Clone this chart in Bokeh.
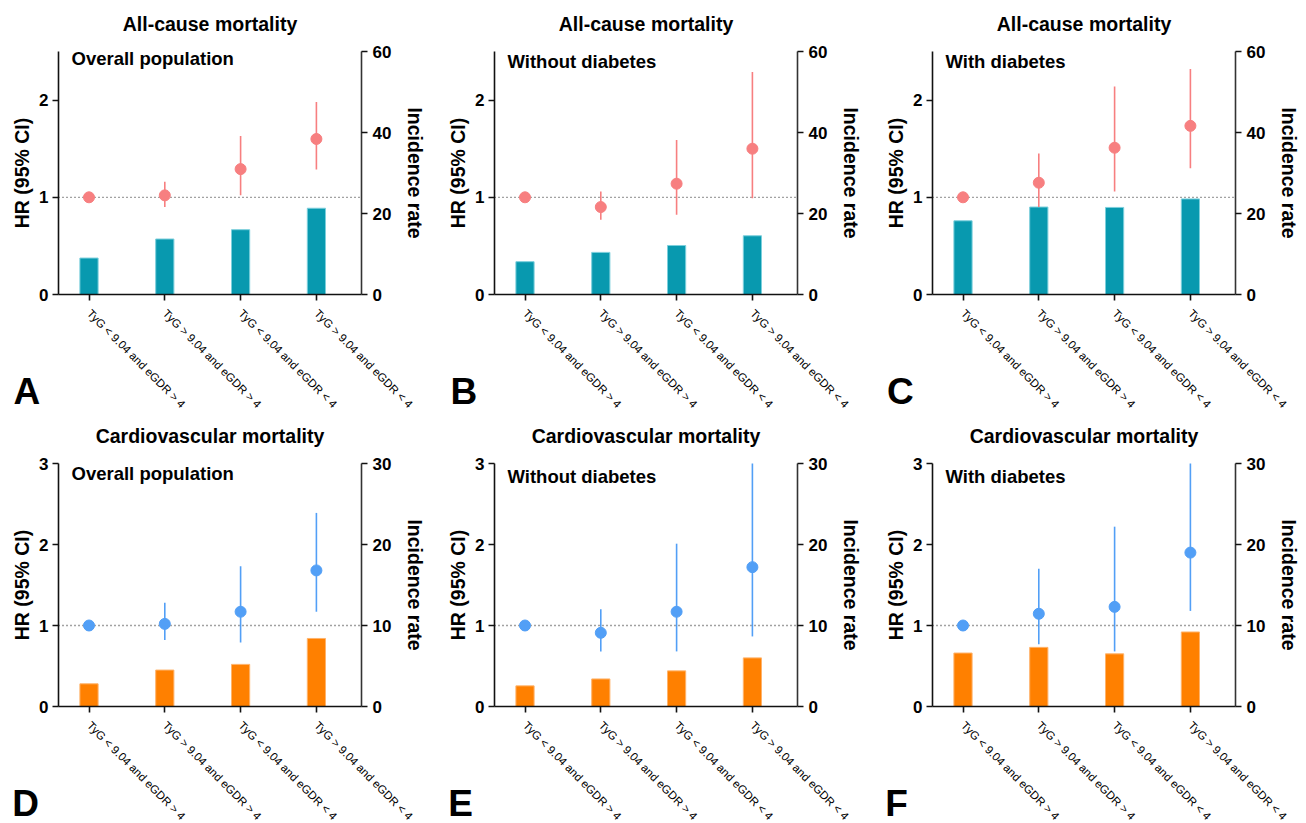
import math
from bokeh.plotting import figure
from bokeh.models import Range1d, LinearAxis, FixedTicker, Label
from bokeh.layouts import column, row
from bokeh.embed import file_html
from bokeh.resources import INLINE

# ---------------- data ----------------
groups = ["TyG < 9.04 and eGDR > 4", "TyG > 9.04 and eGDR > 4",
          "TyG < 9.04 and eGDR < 4", "TyG > 9.04 and eGDR < 4"]

titles = ["All-cause mortality", "All-cause mortality", "All-cause mortality",
          "Cardiovascular mortality", "Cardiovascular mortality", "Cardiovascular mortality"]
subtitles = ["Overall population", "Without diabetes", "With diabetes",
             "Overall population", "Without diabetes", "With diabetes"]
letters = ["A", "B", "C", "D", "E", "F"]

# All-cause mortality: HR (95% CI) and incidence rate
hr_a = [1.00, 1.02, 1.29, 1.60]
lo_a = [1.00, 0.90, 1.02, 1.285]
hi_a = [1.00, 1.16, 1.63, 1.98]
inc_a = [9.0, 13.7, 16.0, 21.3]

hr_b = [1.00, 0.90, 1.14, 1.50]
lo_b = [1.00, 0.77, 0.82, 0.99]
hi_b = [1.00, 1.06, 1.59, 2.29]
inc_b = [8.1, 10.4, 12.1, 14.5]

hr_c = [1.00, 1.15, 1.51, 1.735]
lo_c = [1.00, 0.90, 1.06, 1.30]
hi_c = [1.00, 1.45, 2.14, 2.32]
inc_c = [18.2, 21.6, 21.5, 23.6]

# Cardiovascular mortality
hr_d = [1.00, 1.02, 1.17, 1.68]
lo_d = [1.00, 0.82, 0.79, 1.17]
hi_d = [1.00, 1.28, 1.73, 2.39]
inc_d = [2.8, 4.5, 5.2, 8.4]

hr_e = [1.00, 0.91, 1.17, 1.72]
lo_e = [1.00, 0.68, 0.68, 0.865]
hi_e = [1.00, 1.20, 2.01, 3.00]
inc_e = [2.55, 3.4, 4.4, 6.0]

hr_f = [1.00, 1.145, 1.23, 1.90]
lo_f = [1.00, 0.77, 0.68, 1.18]
hi_f = [1.00, 1.70, 2.22, 3.00]
inc_f = [6.6, 7.3, 6.5, 9.2]

hr_ticks_top = [0, 1, 2]
hr_ticks_bottom = [0, 1, 2, 3]
inc_ticks_top = [0, 20, 40, 60]
inc_ticks_bottom = [0, 10, 20, 30]

# ---------------- styles / layout ----------------
FONT = "Liberation Sans"
PINK = "#F77F80"
TEAL = "#0899AF"
TEAL_EDGE = "#7CCFDC"
BLUE = "#529FF6"
ORANGE = "#FF8000"
ORANGE_EDGE = "#FFB36B"

xs = [0, 1, 2, 3]

# pixel geometry inside each panel figure
SP = 75.8      # px between categories
L_PX = 58.0    # left axis
R_PX = 361.0   # right axis
C0_PX = 88.5   # first category
PT = 51.0      # top of plotting area
PB = 294.0     # bottom of plotting area (HR = 0)


def style_axis(ax, label_size="17px"):
    ax.axis_line_color = "#111111"
    ax.axis_line_width = 1.6
    ax.major_tick_line_color = "#111111"
    ax.major_tick_line_width = 1.6
    ax.major_tick_out = 6
    ax.major_tick_in = 0
    ax.minor_tick_line_color = None
    ax.major_label_text_font = FONT
    ax.major_label_text_font_size = label_size
    ax.major_label_text_font_style = "bold"
    ax.major_label_text_color = "#000000"


def txt(p, text, x, y, xo, yo, size, align="left", baseline="alphabetic", angle=0.0):
    p.add_layout(Label(x=x, y=y, x_offset=xo, y_offset=yo, text=text,
                       text_font=FONT, text_font_size=size, text_font_style="bold",
                       text_color="#000000", text_align=align,
                       text_baseline=baseline, angle=angle))


def panel(i, W, H, hr, lo, hi, inc, hr_max, hr_ticks, inc_max, inc_ticks,
          pcol, bcol, bedge, sub_off, letter_dx):
    s = (PB - PT) / hr_max
    xd = lambda px: (px - C0_PX) / SP
    y0, y1 = (PB - H) / s, PB / s
    k = inc_max / hr_max
    xl, xr = xd(L_PX), xd(R_PX)

    p = figure(width=W, height=H,
               x_range=Range1d(xd(0), xd(W)), y_range=Range1d(y0, y1),
               output_backend="svg", toolbar_location=None,
               min_border=0, min_border_left=0, min_border_right=0,
               min_border_top=0, min_border_bottom=0)
    p.extra_y_ranges = {"inc": Range1d(y0 * k, y1 * k)}
    p.background_fill_color = "white"
    p.border_fill_color = "white"
    p.outline_line_color = None
    p.xgrid.grid_line_color = None
    p.ygrid.grid_line_color = None

    # left axis (HR)
    lax = p.yaxis[0]
    style_axis(lax)
    lax.ticker = FixedTicker(ticks=hr_ticks)
    lax.fixed_location = xl
    lax.bounds = (0, hr_max)
    lax.major_label_standoff = 4

    # right axis (incidence rate)
    rax = LinearAxis(y_range_name="inc", ticker=FixedTicker(ticks=inc_ticks))
    style_axis(rax)
    rax.axis_line_color = "#333333"
    rax.fixed_location = xr
    rax.bounds = (0, inc_max)
    rax.major_label_standoff = 5
    p.add_layout(rax, "right")

    # bottom axis (groups)
    xax = p.xaxis[0]
    style_axis(xax, label_size="11.5px")
    xax.major_label_text_font_style = "normal"
    xax.ticker = FixedTicker(ticks=xs)
    xax.major_label_overrides = {k_: g for k_, g in zip(xs, groups)}
    xax.major_label_orientation = -math.pi / 4
    xax.major_label_standoff = 11
    xax.fixed_location = 0
    xax.bounds = (xl, xr)

    # reference line HR = 1 (axis to axis)
    p.segment(x0=[xl], y0=[1], x1=[xr], y1=[1], line_color="#444444",
              line_width=1.3, line_dash="1 3")

    # bars (incidence rate, right axis)
    p.vbar(x=xs, top=inc, width=0.24, y_range_name="inc",
           fill_color=bcol, line_color=bedge, line_width=1)

    # HR with CI
    p.segment(x0=xs, y0=lo, x1=xs, y1=hi, line_color=pcol, line_width=1.6)
    p.scatter(x=xs, y=hr, size=11, fill_color=pcol, line_color=pcol)

    # texts
    xm = (xl + xr) / 2
    txt(p, titles[i], xm, hr_max, 0, 28, "19.5px", align="center")
    txt(p, subtitles[i], xl, hr_max, 13, -(sub_off - 7), "18.5px")
    txt(p, "HR (95% CI)", xl, hr_max / 2, -37, 0, "19.5px",
        align="center", baseline="middle", angle=math.pi / 2)
    txt(p, "Incidence rate", xr, hr_max / 2, 53.5, 0, "19.5px",
        align="center", baseline="middle", angle=-math.pi / 2)
    txt(p, letters[i], xl, 0, letter_dx, -97, "37px")
    return p


widths = [436, 438, 432]
top_data = [(hr_a, lo_a, hi_a, inc_a), (hr_b, lo_b, hi_b, inc_b), (hr_c, lo_c, hi_c, inc_c)]
bot_data = [(hr_d, lo_d, hi_d, inc_d), (hr_e, lo_e, hi_e, inc_e), (hr_f, lo_f, hi_f, inc_f)]
sub_top = [13.5, 17.3, 17.3]
sub_bot = [16.7, 20, 20]
dx_top = [-45, -44, -45.5]
dx_bot = [-46.3, -46.3, -47.3]

row1 = [panel(k, widths[k], 412, *top_data[k], 2.5, hr_ticks_top, 60, inc_ticks_top,
              PINK, TEAL, TEAL_EDGE, sub_top[k], dx_top[k]) for k in range(3)]
row2 = [panel(k + 3, widths[k], 411, *bot_data[k], 3.0, hr_ticks_bottom, 30, inc_ticks_bottom,
              BLUE, ORANGE, ORANGE_EDGE, sub_bot[k], dx_bot[k]) for k in range(3)]

layout = column(row(*row1, spacing=0), row(*row2, spacing=0), spacing=0)

open("out.html", "w").write(file_html(layout, INLINE))
